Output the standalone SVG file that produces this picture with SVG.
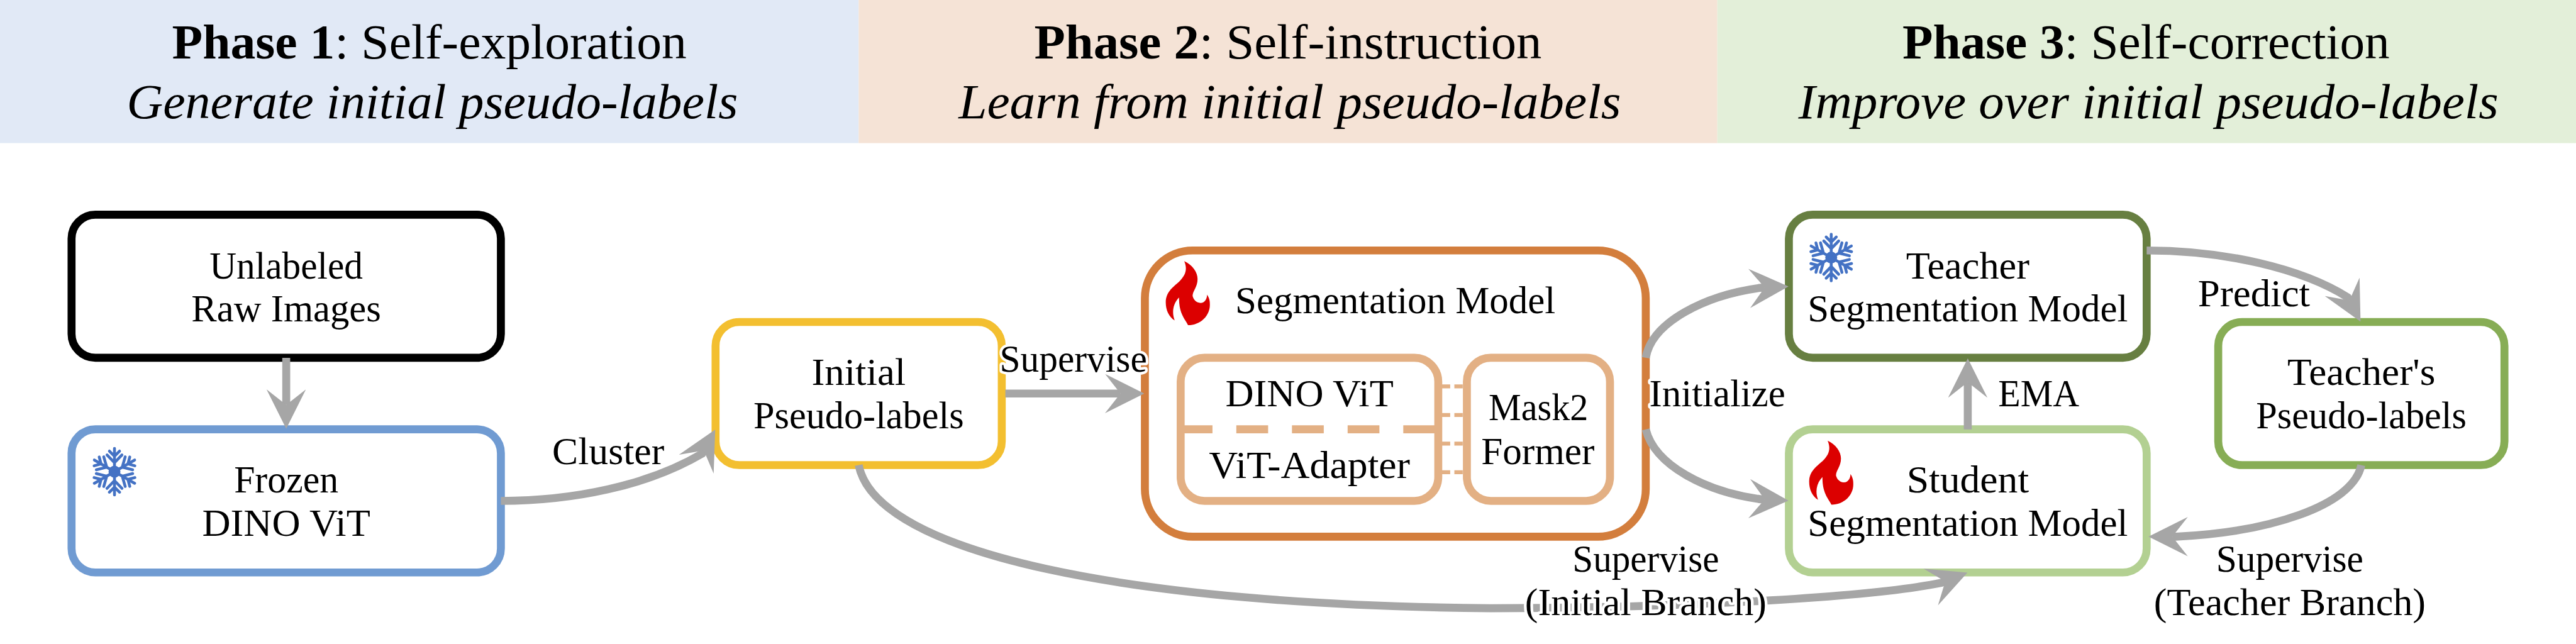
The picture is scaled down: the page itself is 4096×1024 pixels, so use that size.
<svg xmlns="http://www.w3.org/2000/svg" width="4096" height="1024" viewBox="0 0 4096 1024">
<style>
text{font-family:"Liberation Serif","Times New Roman",serif;font-size:64px;fill:#000;text-anchor:middle}
.h{font-size:83px}
.i{font-style:italic}
.b{font-weight:bold}
.lab{stroke:#fff;stroke-width:9px;stroke-linejoin:round;paint-order:stroke}
.box{fill:#fff;stroke-width:13.33}
.c{fill:none;stroke:#a6a6a6;stroke-width:13.33;marker-end:url(#head)}
.sep{fill:none;stroke:#e3b084;stroke-width:6.67}
</style>
<defs>
<marker id="head" markerUnits="userSpaceOnUse" markerWidth="66" markerHeight="66" viewBox="0 0 66 66" refX="26" refY="33" orient="auto">
<path d="M0 0L66 33L0 66L26 33Z" fill="#a6a6a6"/>
</marker>
<g id="arm" fill="none" stroke="#4472c4" stroke-width="4.8" stroke-linecap="round" stroke-linejoin="round">
<path d="M0 0V-39M-8.500 -34.500L0 -26L8.500 -34.500M-12.500 -28L0 -15L12.500 -28"/>
</g>
<g id="flake">
<circle r="10" fill="#4472c4"/>
<use href="#arm"/><use href="#arm" transform="rotate(60)"/><use href="#arm" transform="rotate(120)"/>
<use href="#arm" transform="rotate(180)"/><use href="#arm" transform="rotate(240)"/><use href="#arm" transform="rotate(300)"/>
</g>
<path id="flame" fill="#dc0000" transform="scale(.3333)" d="M93 0C135 20 160 55 160 90C160 130 135 150 135 175C140 195 155 210 175 210C195 210 208 190 208 168C222 190 222 205 222 220C222 275 175 322 112 322C100 295 65 265 67 183C35 215 30 260 45 298C15 280 0 245 0 207C0 150 45 125 70 100C100 70 110 40 93 0Z"/>
</defs>
<g transform="scale(.948148)">
<g id="headers">
<rect width="1440" height="240" fill="#e1e9f6"/>
<rect x="1440" width="1440" height="240" fill="#f5e3d6"/>
<rect x="2880" width="1440" height="240" fill="#e3efd9"/>
<text class="h" x="720" y="98" textLength="863" lengthAdjust="spacingAndGlyphs"><tspan class="b">Phase 1</tspan>: Self-exploration</text>
<text class="h i" x="725" y="198" textLength="1025" lengthAdjust="spacingAndGlyphs">Generate initial pseudo-labels</text>
<text class="h" x="2160" y="98" textLength="851" lengthAdjust="spacingAndGlyphs"><tspan class="b">Phase 2</tspan>: Self-instruction</text>
<text class="h i" x="2163" y="198" textLength="1111" lengthAdjust="spacingAndGlyphs">Learn from initial pseudo-labels</text>
<text class="h" x="3599" y="98" textLength="817" lengthAdjust="spacingAndGlyphs"><tspan class="b">Phase 3</tspan>: Self-correction</text>
<text class="h i" x="3603" y="198" textLength="1174" lengthAdjust="spacingAndGlyphs">Improve over initial pseudo-labels</text>
</g>
<g id="node-unlabeled">
<rect class="box" x="120" y="360" width="720" height="240" rx="40" stroke="#000"/>
<text x="480" y="467.500" textLength="257" lengthAdjust="spacingAndGlyphs">Unlabeled</text>
<text x="480" y="539" textLength="318" lengthAdjust="spacingAndGlyphs">Raw Images</text>
</g>
<g id="node-frozen">
<rect class="box" x="120" y="720" width="720" height="240" rx="40" stroke="#709bd2"/>
<use href="#flake" x="192" y="791"/>
<text x="480" y="826" textLength="175" lengthAdjust="spacingAndGlyphs">Frozen</text>
<text x="480" y="898.500" textLength="282" lengthAdjust="spacingAndGlyphs">DINO ViT</text>
</g>
<g id="node-initial">
<rect class="box" x="1200" y="540" width="480" height="240" rx="40" stroke="#f3bf30"/>
<text x="1440" y="645" textLength="158" lengthAdjust="spacingAndGlyphs">Initial</text>
<text x="1440" y="718.500" textLength="353" lengthAdjust="spacingAndGlyphs">Pseudo-labels</text>
</g>
<g id="node-segmentation">
<rect class="box" x="1920" y="420" width="840" height="480" rx="80" stroke="#d37e3d"/>
<use href="#flame" x="1955" y="438"/>
<text x="2340" y="525.500" textLength="537" lengthAdjust="spacingAndGlyphs">Segmentation Model</text>
<path class="sep" d="M2418 648H2432M2439 648H2453M2418 696H2432M2439 696H2453M2418 744H2432M2439 744H2453M2418 792H2432M2439 792H2453"/>
<g id="node-backbone">
<rect class="box" x="1980" y="600" width="432" height="240" rx="40" stroke="#e3b084"/>
<path d="M1980 720H2412" fill="none" stroke="#e3b084" stroke-width="13.330" stroke-dasharray="53.330 40"/>
<text x="2196" y="681" textLength="282" lengthAdjust="spacingAndGlyphs">DINO ViT</text>
<text x="2196" y="802" textLength="337" lengthAdjust="spacingAndGlyphs">ViT-Adapter</text>
</g>
<g id="node-mask2former">
<rect class="box" x="2460" y="600" width="240" height="240" rx="40" stroke="#e3b084"/>
<text x="2580" y="705" textLength="167" lengthAdjust="spacingAndGlyphs">Mask2</text>
<text x="2579" y="778" textLength="190" lengthAdjust="spacingAndGlyphs">Former</text>
</g>
</g>
<g id="node-teacher">
<rect class="box" x="3000" y="360" width="600" height="240" rx="40" stroke="#677f41"/>
<use href="#flake" x="3071" y="432"/>
<text x="3300" y="467.500" textLength="207" lengthAdjust="spacingAndGlyphs">Teacher</text>
<text x="3300" y="539" textLength="537" lengthAdjust="spacingAndGlyphs">Segmentation Model</text>
</g>
<g id="node-student">
<rect class="box" x="3000" y="720" width="600" height="240" rx="40" stroke="#b3d092"/>
<use href="#flame" x="3034" y="739"/>
<text x="3300" y="826" textLength="205" lengthAdjust="spacingAndGlyphs">Student</text>
<text x="3300" y="898.500" textLength="537" lengthAdjust="spacingAndGlyphs">Segmentation Model</text>
</g>
<g id="node-teacher-labels">
<rect class="box" x="3720" y="540" width="480" height="240" rx="40" stroke="#87ad55"/>
<text x="3960" y="645" textLength="248" lengthAdjust="spacingAndGlyphs">Teacher's</text>
<text x="3960" y="718.500" textLength="353" lengthAdjust="spacingAndGlyphs">Pseudo-labels</text>
</g>
<g id="connectors">
<path class="c" d="M480 600V679"/>
<path class="c" d="M840 840C960 840 1085 815 1177.400 760.800L1180.300 755.500"/>
<path class="c" d="M1686 660H1879"/>
<path class="c" d="M1440 780C1470 930 1900 1015 2500 1020C2800 1020 3130 1003 3256.600 977.200L3262.200 975"/>
<path class="c" d="M2760 600C2770 540 2860 495 2953.400 482.600L2959.400 482.300"/>
<path class="c" d="M2760 720C2775 780 2860 825 2953.400 837.300L2959.400 837.600"/>
<path class="c" d="M3300 720V641"/>
<path class="c" d="M3600 420C3730 420 3860 450 3937.200 498.700L3940 504"/>
<path class="c" d="M3960 780C3945 850 3800 893 3649 900L3643 900"/>
<g id="connector-labels">
<text x="1020" y="778.500" textLength="188" lengthAdjust="spacingAndGlyphs">Cluster</text>
<text class="lab" x="1800" y="623" textLength="247" lengthAdjust="spacingAndGlyphs">Supervise</text>
<text class="lab" x="2880" y="681" textLength="228" lengthAdjust="spacingAndGlyphs">Initialize</text>
<text class="lab" x="2760" y="958.500" textLength="246" lengthAdjust="spacingAndGlyphs">Supervise</text>
<text class="lab" x="2760" y="1031" textLength="405" lengthAdjust="spacingAndGlyphs">(Initial Branch)</text>
<text x="3419" y="681" textLength="136" lengthAdjust="spacingAndGlyphs">EMA</text>
<text x="3780" y="514" textLength="188" lengthAdjust="spacingAndGlyphs">Predict</text>
<text x="3840" y="958.500" textLength="247" lengthAdjust="spacingAndGlyphs">Supervise</text>
<text x="3840" y="1031" textLength="456" lengthAdjust="spacingAndGlyphs">(Teacher Branch)</text>
</g>
</g>
</g>
</svg>
